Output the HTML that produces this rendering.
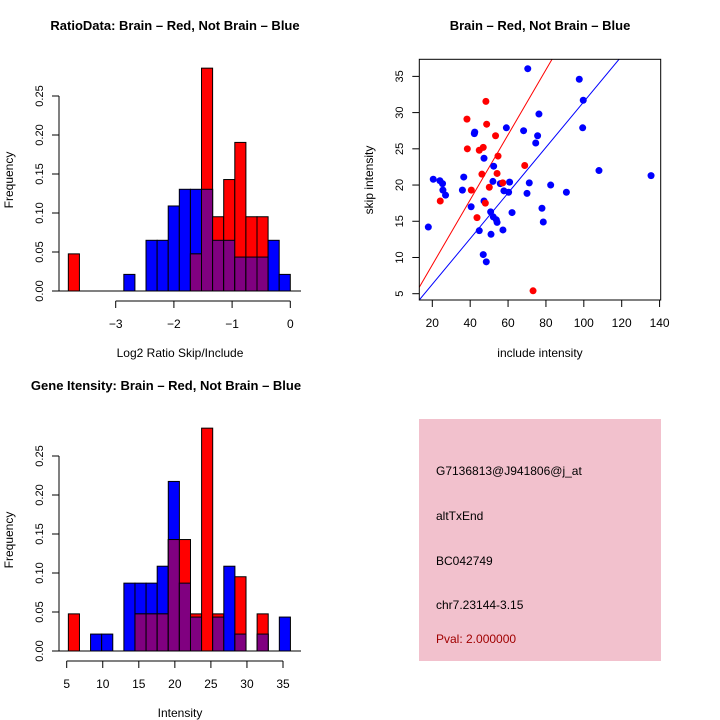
<!DOCTYPE html>
<html><head><meta charset="utf-8"><style>
html,body{margin:0;padding:0;background:#fff;}
svg{display:block;font-family:"Liberation Sans",sans-serif;}
</style></head><body>
<svg id="chart" width="720" height="720" viewBox="0 0 720 720">
<rect width="720" height="720" fill="#fff"/>
<g id="h1"></g>
<g id="sc"></g>
<g id="h2"></g>
<g>
<rect x="419" y="419" width="242" height="242" fill="#f2c1cd"/>
<text x="436" y="475" font-size="12" fill="#000">G7136813@J941806@j_at</text>
<text x="436" y="520" font-size="12" fill="#000">altTxEnd</text>
<text x="436" y="565" font-size="12" fill="#000">BC042749</text>
<text x="436" y="609" font-size="12" fill="#000">chr7.23144-3.15</text>
<text x="436" y="643" font-size="12" fill="#a00000">Pval: 2.000000</text>
</g>
</svg>
<script>
// Ratio histogram data (bin index -> frequency)
const ratioBinStart = -3.814;
const ratioBinWidth = 0.1907;
const ratioBlue = [0,0,0,0,0,0.0213,0,0.065,0.065,0.109,0.1304,0.1304,0.1304,0.065,0.065,0.0435,0.0435,0.0435,0.065,0.0213];
const ratioRed  = [0.0476,0,0,0,0,0,0,0,0,0,0,0.0476,0.2857,0.0952,0.1429,0.1905,0.0952,0.0952,0,0];
const ratioTicks = [-3,-2,-1,0];
// Intensity histogram data
const intBinStart = 5.23;
const intBinWidth = 1.54;
const intBlue = [0,0,0.0217,0.0217,0,0.087,0.087,0.087,0.1087,0.2174,0.087,0.0435,0,0.0435,0.1087,0.0217,0,0.0217,0,0.0435];
const intRed  = [0.0476,0,0,0,0,0,0.0476,0.0476,0.0476,0.1429,0.1429,0.0476,0.2857,0.0476,0,0.0952,0,0.0476,0,0];
const intTicks = [5,10,15,20,25,30,35];
const freqTicks = ["0.00","0.05","0.10","0.15","0.20","0.25"];
// Scatter data
const blueX = [70.4,97.6,99.7,76.3,99.4,59.1,42.4,42.2,68.2,75.6,74.6,47.3,52.4,108.0,135.5,36.6,20.5,24.0,25.4,35.9,25.6,27.0,47.3,40.5,52.0,55.9,60.8,71.2,57.8,60.3,70.0,82.5,90.8,77.9,78.6,62.1,50.8,52.2,53.8,54.2,44.8,57.3,51.0,17.9,46.9,48.5];
const blueY = [36.06,34.6,31.7,29.8,27.9,27.9,27.3,27.1,27.5,26.8,25.8,23.7,22.6,22.0,21.3,21.1,20.8,20.6,20.2,19.3,19.3,18.6,17.8,17.0,20.5,20.2,20.4,20.3,19.2,19.0,18.85,20.0,19.0,16.8,14.9,16.2,16.3,15.6,15.2,14.85,13.7,13.8,13.2,14.2,10.4,9.4];
const redX = [48.3,38.3,48.7,53.4,38.5,44.8,46.9,54.7,68.8,46.2,54.2,57.2,50.1,40.6,24.2,48.0,43.6,73.2];
const redY = [31.55,29.1,28.4,26.8,25.0,24.8,25.2,24.0,22.7,21.5,21.6,20.3,19.7,19.3,17.8,17.5,15.5,5.4];
const redSlope = 0.449, blueSlope = 0.315;
const scXTicks = [20,40,60,80,100,120,140];
const scYTicks = [5,10,15,20,25,30,35];

const NS="http://www.w3.org/2000/svg";
function mk(parent,tag,attrs,name){const e=document.createElementNS(NS,tag);for(const k in attrs)e.setAttribute(k,attrs[k]);


parent.appendChild(e);return e;}
function txt(parent,x,y,s,size,name,extra){const t=mk(parent,'text',Object.assign({x:x,y:y,'font-size':size,'text-anchor':'middle'},extra||{}),name);t.textContent=s;return t;}

function hist(g,top,binStart,binW,xScaleA,blue,red,ticks,title,titleX,xlab){
  const base=top+241, ppu=780;
  const fy=v=>base-v*ppu;
  const fx=v=>xScaleA.x0+(v-xScaleA.v0)*xScaleA.k;
  txt(g,titleX,top-20,title,13,'histogram-title',{'font-weight':'bold'});
  for(let i=0;i<blue.length;i++){
    const x0=fx(binStart+i*binW), x1=fx(binStart+(i+1)*binW);
    const b=blue[i], r=red[i], m=Math.min(b,r);
    if(b>0) mk(g,'rect',{x:x0,y:fy(b),width:x1-x0,height:b*ppu,fill:'#0000ff',stroke:'#000','stroke-width':1},'bar-blue');
    if(r>0) mk(g,'rect',{x:x0,y:fy(r),width:x1-x0,height:r*ppu,fill:'#ff0000',stroke:'#000','stroke-width':1},'bar-red');
    if(m>0) mk(g,'rect',{x:x0,y:fy(m),width:x1-x0,height:m*ppu,fill:'#800080',stroke:'#000','stroke-width':1},'bar-overlap');
  }
  mk(g,'line',{x1:52,y1:base,x2:301,y2:base,stroke:'#000'},'baseline');
  mk(g,'line',{x1:59,y1:fy(0),x2:59,y2:fy(0.25),stroke:'#000'},'y-axis');
  freqTicks.forEach(t=>{const y=fy(parseFloat(t));
    mk(g,'line',{x1:52,y1:y,x2:59,y2:y,stroke:'#000'},'y-tick');
    txt(g,0,0,t,11,'y-tick-label',{transform:`translate(43,${y}) rotate(-90)`});});
  const ay=base+10;
  mk(g,'line',{x1:fx(ticks[0]),y1:ay,x2:fx(ticks[ticks.length-1]),y2:ay,stroke:'#000'},'x-axis');
  ticks.forEach(t=>{const x=fx(t);mk(g,'line',{x1:x,y1:ay,x2:x,y2:ay+7,stroke:'#000'},'x-tick');
    txt(g,x,ay+27,(t<0?'\u2212'+(-t):String(t)),12,'x-tick-label');});
  txt(g,180,base+66,xlab,12,'x-axis-title');
  txt(g,0,0,'Frequency',12,'y-axis-title',{transform:`translate(13,${top+130}) rotate(-90)`});
}
hist(document.getElementById('h1'),50,ratioBinStart,ratioBinWidth,{x0:290.3,v0:0,k:58.2},ratioBlue,ratioRed,ratioTicks,'RatioData: Brain \u2013 Red, Not Brain \u2013 Blue',175,'Log2 Ratio Skip/Include');
hist(document.getElementById('h2'),410,intBinStart,intBinWidth,{x0:66.7,v0:5,k:7.21},intBlue,intRed,intTicks,'Gene Itensity: Brain \u2013 Red, Not Brain \u2013 Blue',166,'Intensity');

// scatter
(function(){
  const g=document.getElementById('sc');
  const L=419.3,R=660.7,T=59.3,B=300;
  const sx=v=>432.3+(v-20)*1.894, sy=v=>293.7-(v-5)*7.244;
  txt(g,540,30,'Brain \u2013 Red, Not Brain \u2013 Blue',13,'scatter-title',{'font-weight':'bold'});
  const defs=mk(g,'defs',{},'defs');
  const cp=mk(defs,'clipPath',{id:'clipsc'},'plot-clip');
  mk(cp,'rect',{x:L,y:T,width:R-L,height:B-T},'clip-rect');
  const inner=mk(g,'g',{'clip-path':'url(#clipsc)'},'plot-area');
  const xmin=20+(L-432.3)/1.894, xmax=20+(R-432.3)/1.894;
  mk(inner,'line',{x1:sx(xmin),y1:sy(redSlope*xmin),x2:sx(xmax),y2:sy(redSlope*xmax),stroke:'#ff0000'},'red-fit-line');
  mk(inner,'line',{x1:sx(xmin),y1:sy(blueSlope*xmin),x2:sx(xmax),y2:sy(blueSlope*xmax),stroke:'#0000ff'},'blue-fit-line');
  blueX.forEach((v,i)=>mk(inner,'circle',{cx:sx(v),cy:sy(blueY[i]),r:3.5,fill:'#0000ff'},'point-blue'));
  redX.forEach((v,i)=>mk(inner,'circle',{cx:sx(v),cy:sy(redY[i]),r:3.5,fill:'#ff0000'},'point-red'));
  mk(g,'rect',{x:L,y:T,width:R-L,height:B-T,fill:'none',stroke:'#000'},'plot-frame');
  scXTicks.forEach(t=>{const x=sx(t);mk(g,'line',{x1:x,y1:B,x2:x,y2:B+7,stroke:'#000'},'x-tick');
    txt(g,x,B+27,String(t),12,'x-tick-label');});
  scYTicks.forEach(t=>{const y=sy(t);mk(g,'line',{x1:L-7,y1:y,x2:L,y2:y,stroke:'#000'},'y-tick');
    txt(g,0,0,String(t),11,'y-tick-label',{transform:`translate(403,${y}) rotate(-90)`});});
  txt(g,540,357,'include intensity',12,'x-axis-title');
  txt(g,0,0,'skip intensity',12,'y-axis-title',{transform:`translate(373,180) rotate(-90)`});
})();
</script>
</body></html>
